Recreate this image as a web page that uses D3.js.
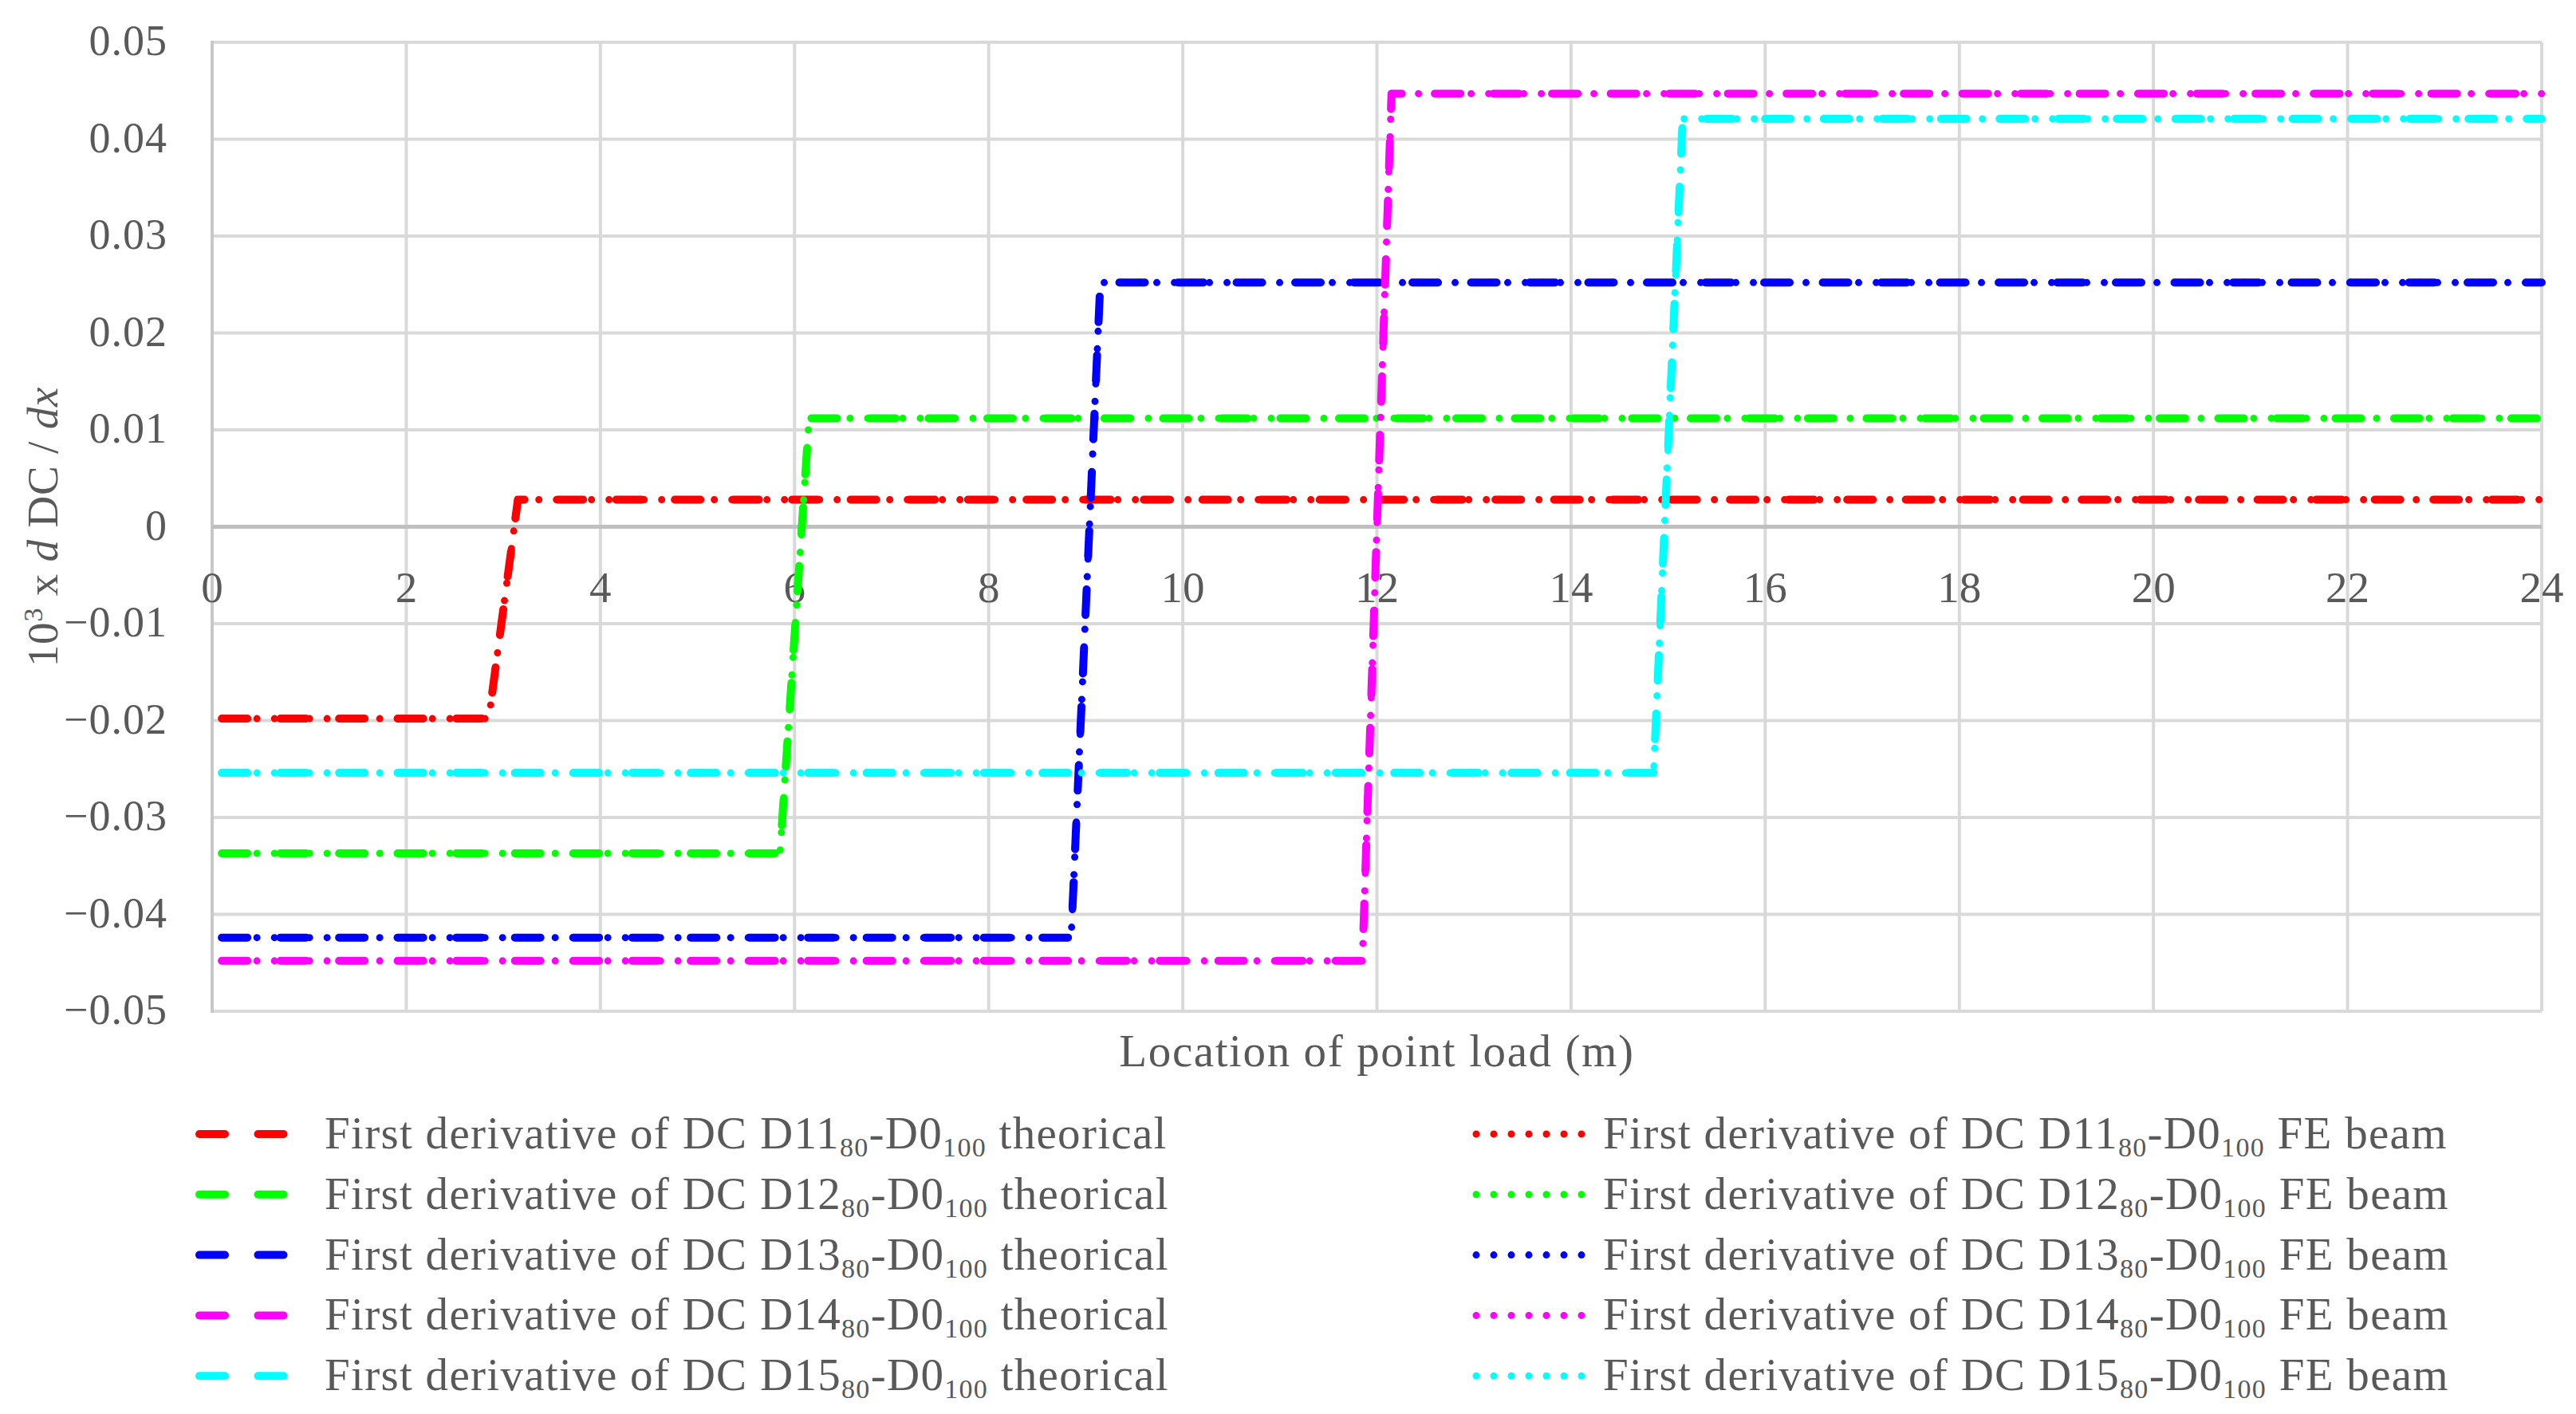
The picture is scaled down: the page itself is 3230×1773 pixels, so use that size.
<!DOCTYPE html>
<html>
<head>
<meta charset="utf-8">
<script src="https://cdn.jsdelivr.net/npm/d3@7"></script>
<style>
    body { margin: 0; background: #fff; }
    svg text { font-family: 'Palatino Linotype', 'Book Antiqua', Palatino, 'Liberation Serif', serif; fill: #595959; }
</style>
</head>
<body>
<svg id="chart" width="3230" height="1773"></svg>
<script>
// Axis ticks
const xTicks = [0, 2, 4, 6, 8, 10, 12, 14, 16, 18, 20, 22, 24];
const yTicks = [-0.05, -0.04, -0.03, -0.02, -0.01, 0, 0.01, 0.02, 0.03, 0.04, 0.05];

// Sensor names (D11..D15) and their series colours
const sensors = ['D11', 'D12', 'D13', 'D14', 'D15'];
const colors = ['#ff0000', '#00ff00', '#0000ff', '#ff00ff', '#00ffff'];

// Theoretical first derivative curves [x (m), value]
const theorD11 = [[0.1, -0.0198], [2.85, -0.0198], [3.15, 0.0028], [24, 0.0028]];
const theorD12 = [[0.1, -0.0337], [5.85, -0.0337], [6.15, 0.0112], [24, 0.0112]];
const theorD13 = [[0.1, -0.0424], [8.85, -0.0424], [9.15, 0.0252], [24, 0.0252]];
const theorD14 = [[0.1, -0.0448], [11.85, -0.0448], [12.15, 0.0447], [24, 0.0447]];
const theorD15 = [[0.1, -0.0254], [14.85, -0.0254], [15.15, 0.0421], [24, 0.0421]];

// FE beam first derivative curves [x (m), value]
const feD11 = [[0.1, -0.0198], [2.85, -0.0198], [3.15, 0.0028], [24, 0.0028]];
const feD12 = [[0.1, -0.0337], [5.85, -0.0337], [6.15, 0.0112], [24, 0.0112]];
const feD13 = [[0.1, -0.0424], [8.85, -0.0424], [9.15, 0.0252], [24, 0.0252]];
const feD14 = [[0.1, -0.0448], [11.85, -0.0448], [12.15, 0.0447], [24, 0.0447]];
const feD15 = [[0.1, -0.0254], [14.85, -0.0254], [15.15, 0.0421], [24, 0.0421]];

const theorSeries = [theorD11, theorD12, theorD13, theorD14, theorD15];
const feSeries = [feD11, feD12, feD13, feD14, feD15];

const svg = d3.select('#chart');

const x = d3.scaleLinear().domain([0, 24]).range([266, 3187]);
const y = d3.scaleLinear().domain([-0.05, 0.05]).range([1268, 53]);

// Dash styles
const DASH = '32,41.5';
const DOT = '0,22';

// Gridlines
const grid = svg.append('g').attr('class', 'grid');
grid.selectAll('line.h')
    .data(yTicks.filter(v => v !== 0))
    .enter().append('line')
    .attr('x1', x(0)).attr('x2', x(24))
    .attr('y1', d => y(d)).attr('y2', d => y(d))
    .attr('stroke', '#d9d9d9').attr('stroke-width', 4);
grid.selectAll('line.v')
    .data(xTicks.filter(v => v !== 0))
    .enter().append('line')
    .attr('x1', d => x(d)).attr('x2', d => x(d))
    .attr('y1', y(0.05)).attr('y2', y(-0.05))
    .attr('stroke', '#d9d9d9').attr('stroke-width', 4);

// Axis lines
svg.append('line')
    .attr('x1', x(0)).attr('x2', x(0))
    .attr('y1', y(0.05) - 2).attr('y2', y(-0.05) + 2)
    .attr('stroke', '#c8c8c8').attr('stroke-width', 4);
svg.append('line')
    .attr('x1', x(0)).attr('x2', x(24))
    .attr('y1', y(0)).attr('y2', y(0))
    .attr('stroke', '#bfbfbf').attr('stroke-width', 5);

// Tick labels
const fmt = d3.format('.2f');
svg.append('g').selectAll('text')
    .data(yTicks)
    .enter().append('text')
    .attr('x', 210)
    .attr('y', d => y(d) + 16)
    .attr('text-anchor', 'end')
    .style('font-size', '54px')
    .style('letter-spacing', '1px')
    .text(d => d === 0 ? '0' : fmt(d));

svg.append('g').selectAll('text')
    .data(xTicks)
    .enter().append('text')
    .attr('x', d => x(d))
    .attr('y', y(0) + 94)
    .attr('text-anchor', 'middle')
    .style('font-size', '55px')
    .text(d => d);

// Axis titles
svg.append('text')
    .attr('x', (x(0) + x(24)) / 2)
    .attr('y', 1337)
    .attr('text-anchor', 'middle')
    .style('font-size', '57px')
    .style('letter-spacing', '1.6px')
    .text('Location of point load (m)');

const yTitle = svg.append('text')
    .attr('transform', `translate(72,${y(0)}) rotate(-90)`)
    .attr('text-anchor', 'middle')
    .style('font-size', '55px')
    .style('letter-spacing', '0.8px');
yTitle.append('tspan').text('10');
yTitle.append('tspan').attr('dy', -19).style('font-size', '34px').text('3');
yTitle.append('tspan').attr('dy', 19).text(' x ');
yTitle.append('tspan').style('font-style', 'italic').text('d');
yTitle.append('tspan').text(' DC / ');
yTitle.append('tspan').style('font-style', 'italic').text('dx');

// Series lines: theoretical (dashed) then FE beam (dotted), per sensor
const line = d3.line().x(d => x(d[0])).y(d => y(d[1]));
const lines = svg.append('g').attr('class', 'series');
sensors.forEach((s, i) => {
    lines.append('path')
        .datum(theorSeries[i])
        .attr('d', line)
        .attr('fill', 'none')
        .attr('stroke', colors[i])
        .attr('stroke-width', 10)
        .attr('stroke-linecap', 'round')
        .attr('stroke-linejoin', 'round')
        .attr('stroke-dasharray', DASH);
    lines.append('path')
        .datum(feSeries[i])
        .attr('d', line)
        .attr('fill', 'none')
        .attr('stroke', colors[i])
        .attr('stroke-width', 9)
        .attr('stroke-linecap', 'round')
        .attr('stroke-linejoin', 'round')
        .attr('stroke-dasharray', DOT);
});

// Legend
const legend = svg.append('g').attr('class', 'legend');
const rowY = i => 1422 + i * 75.8;

function legendLabel(g, tx, ty, name, suffix) {
    const t = g.append('text')
        .attr('x', tx).attr('y', ty)
        .style('font-size', '57px')
        .style('letter-spacing', '1.3px');
    t.append('tspan').text('First derivative of DC ' + name);
    t.append('tspan').attr('dy', 10).style('font-size', '34px').text('80');
    t.append('tspan').attr('dy', -10).text('-D0');
    t.append('tspan').attr('dy', 10).style('font-size', '34px').text('100');
    t.append('tspan').attr('dy', -10).text(suffix);
}

sensors.forEach((s, i) => {
    const ry = rowY(i);
    legend.append('line')
        .attr('x1', 250).attr('x2', 356)
        .attr('y1', ry).attr('y2', ry)
        .attr('stroke', colors[i]).attr('stroke-width', 10)
        .attr('stroke-linecap', 'round')
        .attr('stroke-dasharray', DASH);
    legendLabel(legend, 407, ry + 18, s, ' theorical');

    legend.append('line')
        .attr('x1', 1851).attr('x2', 1984)
        .attr('y1', ry).attr('y2', ry)
        .attr('stroke', colors[i]).attr('stroke-width', 9)
        .attr('stroke-linecap', 'round')
        .attr('stroke-dasharray', DOT);
    legendLabel(legend, 2010, ry + 18, s, ' FE beam');
});
</script>
</body>
</html>
